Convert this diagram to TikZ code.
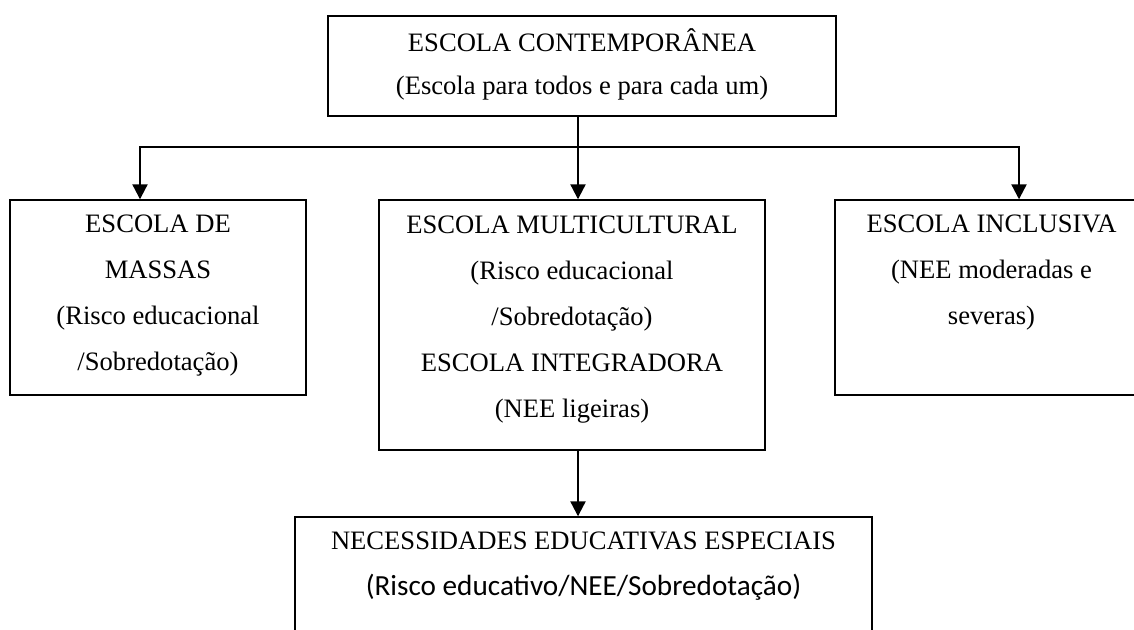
\documentclass[tikz,border=0pt]{standalone}
\usepackage{fontspec}
\setmainfont{Liberation Serif}
\newfontfamily\calibrifont{Carlito}
\usetikzlibrary{arrows.meta,positioning}

\tikzset{
  box/.style={draw, rectangle, line width=0.7pt, inner sep=0pt},
  txt/.style={inner sep=0pt, align=center, font=\fontsize{13.3}{23}\selectfont},
  link/.style={line width=1.1pt},
  arr/.style={link, -{Triangle[length=7.5pt,width=7.5pt]}}
}

\begin{document}
\begin{tikzpicture}[x=0.5pt, y=-0.5pt]
    \useasboundingbox (0,0) rectangle (1134,630);
    \clip (0,0) rectangle (1134,630);

    % Boxes
    \node[box, minimum width=254pt, minimum height=50pt] (contemp) at (582,66) {};
    \node[box, minimum width=148pt, minimum height=97.5pt] (massas) at (158,297.5) {};
    \node[box, minimum width=193pt, minimum height=125pt] (multi) at (572,325) {};
    \node[box, minimum width=156.5pt, minimum height=97.5pt] (inclusiva) at (991.5,297.5) {};
    \node[box, minimum width=288.5pt, minimum height=81.5pt] (nee) at (583.5,598.5) {};

    % Texts
    \node[txt, font=\fontsize{13.3}{21.5}\selectfont, below=3pt of contemp.north] (contemp-t)
        {\strut ESCOLA CONTEMPORÂNEA\\(Escola para todos e para cada um)};
    \node[txt, below=0.5pt of massas.north] (massas-t)
        {\strut ESCOLA DE\\MASSAS\\(Risco educacional\\/Sobredotação)};
    \node[txt, below=1pt of multi.north] (multi-t)
        {\strut ESCOLA MULTICULTURAL\\(Risco educacional\\/Sobredotação)\\ESCOLA INTEGRADORA\\(NEE ligeiras)};
    \node[txt, below=0.5pt of inclusiva.north] (inclusiva-t)
        {\strut ESCOLA INCLUSIVA\\(NEE moderadas e\\severas)};
    \node[txt, below=0.5pt of nee.north] (nee-t)
        {\strut NECESSIDADES EDUCATIVAS ESPECIAIS\\{\calibrifont\fontsize{14.6}{23}\selectfont (Risco educativo/NEE/Sobredotação)}};

    % Connectors
    \coordinate (fork) at (578,147);
    \draw[link] ([xshift=-2pt]contemp.south) -- (fork);
    \draw[arr] (fork) -| ([xshift=-9pt]massas.north);
    \draw[arr] (fork) -- ([xshift=3pt]multi.north);
    \draw[arr] (fork) -| ([xshift=13.75pt]inclusiva.north);
    \draw[arr] ([xshift=3pt]multi.south) -- ([xshift=-2.75pt]nee.north);
\end{tikzpicture}
\end{document}
